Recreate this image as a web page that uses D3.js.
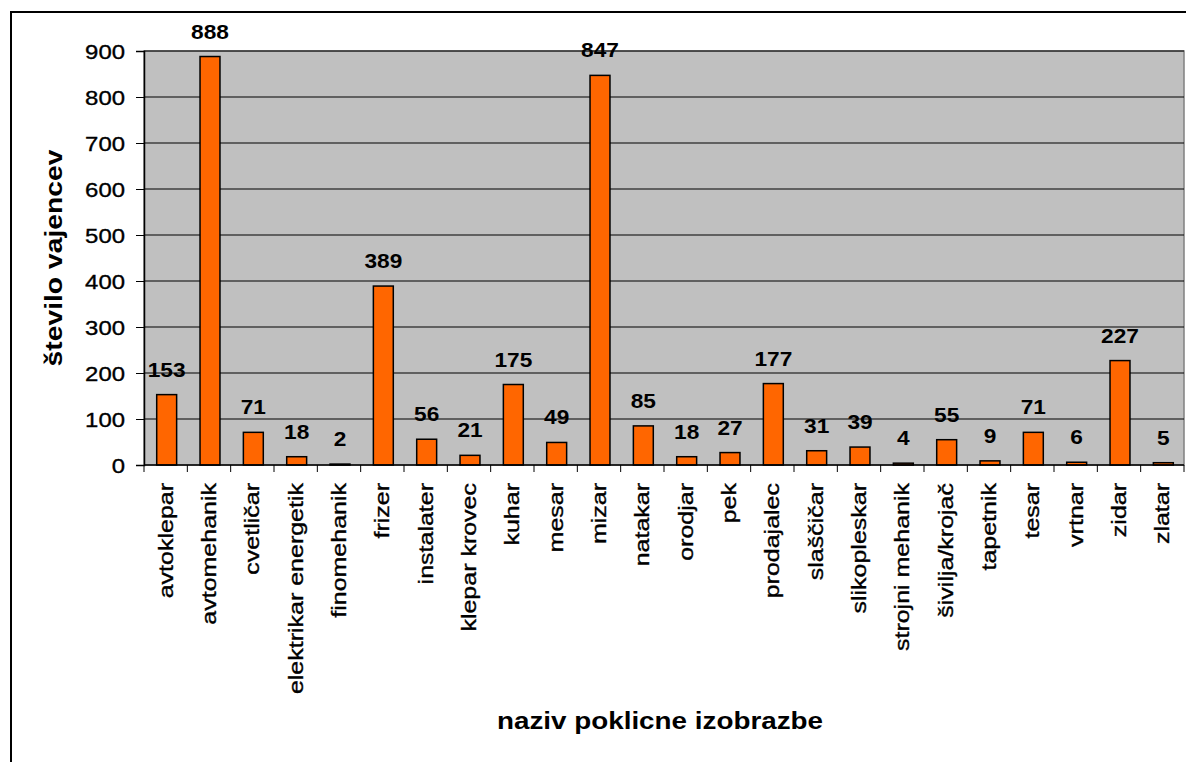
<!DOCTYPE html>
<html>
<head>
<meta charset="utf-8">
<script src="https://cdn.jsdelivr.net/npm/d3@7"></script>
<style>
  body { margin: 0; background: #fff; }
  text { font-family: "Liberation Sans", Arial, sans-serif; }
</style>
</head>
<body>
<svg id="chart"></svg>
<script>
const categories = ["avtoklepar", "avtomehanik", "cvetličar", "elektrikar energetik", "finomehanik",
  "frizer", "instalater", "klepar krovec", "kuhar", "mesar", "mizar", "natakar", "orodjar", "pek",
  "prodajalec", "slaščičar", "slikopleskar", "strojni mehanik", "šivilja/krojač", "tapetnik",
  "tesar", "vrtnar", "zidar", "zlatar"]
const values = [153, 888, 71, 18, 2, 389, 56, 21, 175, 49, 847, 85, 18, 27, 177, 31, 39, 4, 55, 9, 71, 6, 227, 5]
const yTicks = [0, 100, 200, 300, 400, 500, 600, 700, 800, 900]
const xTitle = "naziv poklicne izobrazbe"
const yTitle = "število vajencev"

const svgWidth = 1186
const svgHeight = 762
var margin = { left: 144, right: 2, top: 51, bottom: 297 }
var width = svgWidth - margin.left - margin.right,
    height = svgHeight - margin.top - margin.bottom

let svg = d3.select("#chart")
  .attr("width", svgWidth)
  .attr("height", svgHeight)

// outer chart frame (runs off the page on the right and bottom)
svg.append("rect")
  .attr("x", 11).attr("y", 12)
  .attr("width", 1300).attr("height", 900)
  .attr("fill", "none")
  .attr("stroke", "#000")
  .attr("stroke-width", 2)

let g = svg.append("g")
  .attr("transform", "translate(" + margin.left + "," + margin.top + ")")

var x = d3.scaleBand()
  .domain(categories)
  .range([0, width])
  .padding(0)

var y = d3.scaleLinear()
  .domain([0, 900])
  .range([height, 0])

// plot area
g.append("rect")
  .attr("width", width)
  .attr("height", height)
  .attr("fill", "#c0c0c0")
  .attr("stroke", "#808080")
  .attr("stroke-width", 1.5)

// gridlines
g.selectAll(".grid")
  .data(yTicks.filter(d => d > 0))
  .enter().append("line")
  .attr("class", "grid")
  .attr("x1", 0).attr("x2", width)
  .attr("y1", d => y(d)).attr("y2", d => y(d))
  .attr("stroke", "#000")
  .attr("stroke-width", 1)

// bars
var barW = x.bandwidth() * 0.46
g.selectAll(".bar")
  .data(values)
  .enter().append("rect")
  .attr("class", "bar")
  .attr("x", (d, i) => x(categories[i]) + x.bandwidth() / 2 - barW / 2 + 1)
  .attr("y", d => y(d))
  .attr("width", barW)
  .attr("height", d => height - y(d))
  .attr("fill", "#ff6600")
  .attr("stroke", "#000")
  .attr("stroke-width", 1.5)

// value labels
g.selectAll(".val")
  .data(values)
  .enter().append("text")
  .attr("class", "val")
  .attr("transform", (d, i) => "translate(" + (x(categories[i]) + x.bandwidth() / 2 + 1) + "," + (y(d) - 18) + ") scale(1.08,1)")
  .attr("text-anchor", "middle")
  .attr("font-size", "21px")
  .attr("font-weight", "bold")
  .text(d => d)

// y axis
var yAxis = g.append("g")
  .call(d3.axisLeft(y).tickValues(yTicks).tickSize(8).tickPadding(10))
yAxis.select(".domain").attr("stroke", "#000").attr("stroke-width", 1.5)
yAxis.selectAll(".tick line").attr("stroke", "#000")
yAxis.selectAll(".tick text")
  .attr("font-size", "21px")
  .attr("fill", "#000")
  .attr("stroke", "#000")
  .attr("stroke-width", 0.35)
  .attr("transform", "scale(1.14,1)")
  .attr("x", -19 / 1.14)
  .attr("dy", "0.36em")

// x axis: ticks on band boundaries
var xAxis = g.append("g")
  .attr("transform", "translate(0," + height + ")")
xAxis.append("line")
  .attr("x1", 0).attr("x2", width)
  .attr("stroke", "#000").attr("stroke-width", 1.5)
xAxis.selectAll(".xtick")
  .data(categories.concat(["_end"]))
  .enter().append("line")
  .attr("class", "xtick")
  .attr("x1", (d, i) => i < categories.length ? x(d) : width)
  .attr("x2", (d, i) => i < categories.length ? x(d) : width)
  .attr("y1", 0).attr("y2", 7)
  .attr("stroke", "#000")
xAxis.selectAll(".xlab")
  .data(categories)
  .enter().append("text")
  .attr("class", "xlab")
  .attr("transform", d => "translate(" + (x(d) + x.bandwidth() / 2) + ",18) rotate(-90) scale(1.25,1)")
  .attr("text-anchor", "end")
  .attr("dy", "0.35em")
  .attr("font-size", "20px")
  .attr("stroke", "#000")
  .attr("stroke-width", 0.35)
  .text(d => d)

// axis titles
svg.append("text")
  .attr("transform", "translate(660,729) scale(1.21,1)")
  .attr("text-anchor", "middle")
  .attr("font-size", "23px")
  .attr("font-weight", "bold")
  .text(xTitle)

svg.append("text")
  .attr("transform", "translate(62,258) rotate(-90) scale(1.23,1)")
  .attr("text-anchor", "middle")
  .attr("font-size", "23px")
  .attr("font-weight", "bold")
  .text(yTitle)
</script>
</body>
</html>
